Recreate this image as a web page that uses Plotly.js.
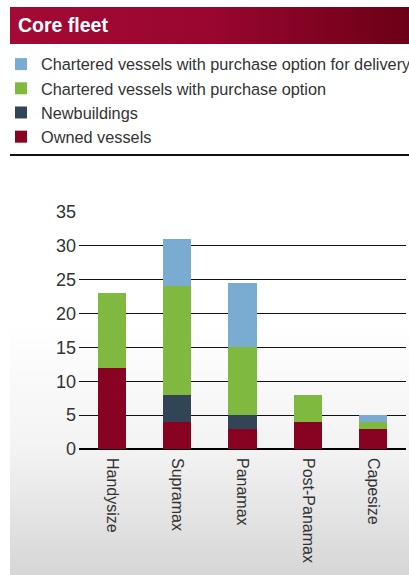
<!DOCTYPE html>
<html>
<head>
<meta charset="utf-8">
<script src="https://cdn.plot.ly/plotly-3.0.1.min.js"></script>
<style>
  html, body { margin: 0; padding: 0; background: #fff; }
  #wrap { position: relative; width: 409px; height: 575px; overflow: hidden; background: #fff; }
  #panel { position: absolute; left: 10px; top: 156px; width: 399px; height: 419px;
           background: linear-gradient(to bottom, #ffffff 0%, #ffffff 40%, #f3f3f3 70%, #d6d6d6 100%); }
  #bar { position: absolute; left: 10px; top: 7px; width: 399px; height: 37px;
         background: linear-gradient(to right, #a30a35 0%, #9a0630 50%, #6c0016 100%); }
  #rule { position: absolute; left: 10px; top: 154px; width: 399px; height: 2px; background: #111; }
  #chart { position: absolute; left: 0; top: 0; width: 409px; height: 575px; }
</style>
</head>
<body>
<div id="wrap">
  <div id="panel"></div>
  <div id="bar"></div>
  <div id="rule"></div>
  <div id="chart"></div>
</div>
<script>
const categories = ["Handysize", "Supramax", "Panamax", "Post-Panamax", "Capesize"];
const ownedVessels = [12, 4, 3, 4, 3];
const newbuildings = [0, 4, 2, 0, 0];
const charteredWithOption = [11, 16, 10, 4, 1];
const charteredForDelivery = [0, 7, 9.5, 0, 1];
const seriesNames = [
  "Owned vessels",
  "Newbuildings",
  "Chartered vessels with purchase option",
  "Chartered vessels with purchase option for delivery"
];
const seriesColors = ["#880322", "#314557", "#80b940", "#7aabd1"];
const seriesValues = [ownedVessels, newbuildings, charteredWithOption, charteredForDelivery];
const yTickValues = [0, 5, 10, 15, 20, 25, 30, 35];

const FONT = "Liberation Sans, Arial, sans-serif";

const traces = seriesValues.map((vals, i) => ({
  type: "bar",
  name: seriesNames[i],
  x: categories,
  y: vals,
  marker: { color: seriesColors[i], line: { width: 0 } },
  hoverinfo: "skip"
}));

const layout = {
  width: 409,
  height: 575,
  margin: { l: 79, r: 3, t: 212, b: 126, pad: 0, autoexpand: false },
  paper_bgcolor: "rgba(0,0,0,0)",
  plot_bgcolor: "rgba(0,0,0,0)",
  barmode: "stack",
  bargap: 0.57,
  font: { family: FONT, size: 16, color: "#333" },
  title: {
    text: "Core fleet",
    font: { family: FONT, size: 19.5, color: "#ffffff", weight: "bold" },
    xref: "container", yref: "container",
    x: 18 / 409, xanchor: "left",
    y: 1 - 25 / 575, yanchor: "middle",
    automargin: false
  },
  showlegend: true,
  legend: {
    xref: "container", yref: "container",
    x: 1 / 409, xanchor: "left",
    y: 1 - 47 / 575, yanchor: "top",
    traceorder: "reversed",
    orientation: "v",
    bgcolor: "rgba(0,0,0,0)",
    font: { family: FONT, size: 16.3, color: "#333" },
    itemclick: false
  },
  xaxis: {
    type: "category",
    tickangle: 90,
    showgrid: false,
    zeroline: false,
    showline: false,
    ticks: "",
    automargin: false,
    ticklabelstandoff: 8,
    tickfont: { family: FONT, size: 16, color: "#333" },
    fixedrange: true
  },
  yaxis: {
    range: [0, 35],
    tickvals: yTickValues,
    ticktext: yTickValues.map(String),
    showgrid: true,
    gridcolor: "#111",
    gridwidth: 1,
    zeroline: true,
    zerolinecolor: "#000",
    zerolinewidth: 2,
    showline: false,
    ticks: "",
    automargin: false,
    ticklabelstandoff: 2,
    tickfont: { family: FONT, size: 18, color: "#333" },
    fixedrange: true
  }
};

Plotly.newPlot("chart", traces, layout, { displayModeBar: false, staticPlot: true });
</script>
</body>
</html>
